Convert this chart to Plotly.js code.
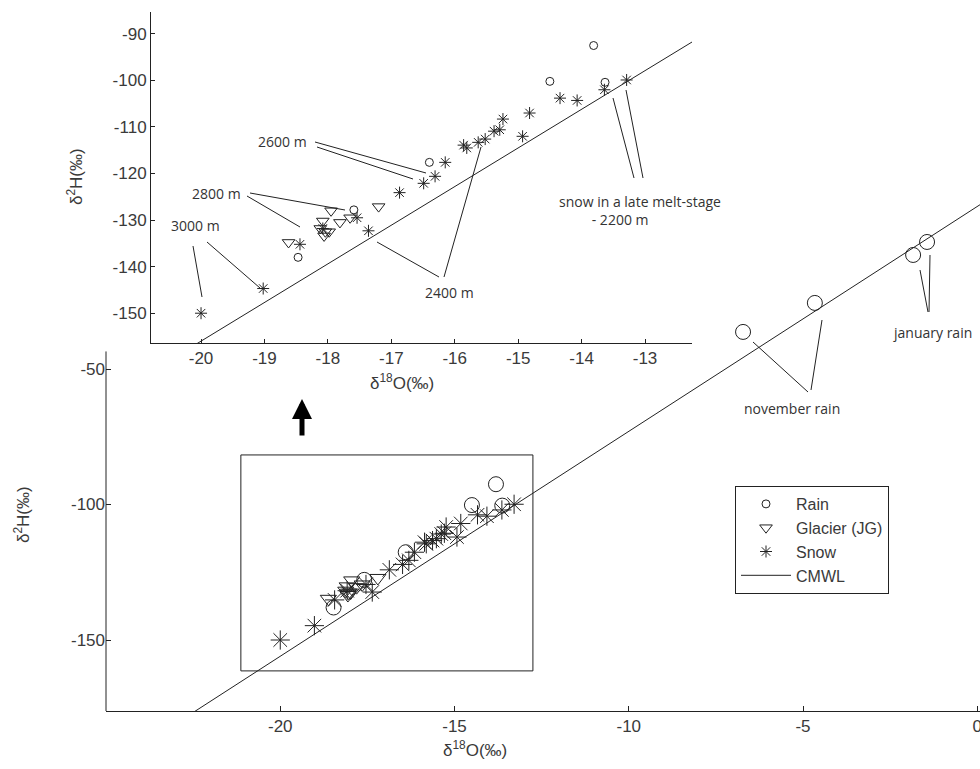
<!DOCTYPE html>
<html>
<head>
<meta charset="utf-8">
<script src="https://cdn.plot.ly/plotly-3.0.1.min.js"></script>
<style>html,body{margin:0;padding:0;background:#fff;}#chart{width:980px;height:769px;}</style>
</head>
<body>
<div id="chart"></div>
<script>
// ---- data ----
const rainX = [-18.47, -17.59, -16.40, -14.50, -13.81, -13.63, -6.72, -4.66, -1.84, -1.44];
const rainY = [-138.0, -127.8, -117.6, -100.2, -92.5, -100.4, -36.3, -25.6, -7.9, -3.1];
const glacierX = [-17.95, -17.20, -18.08, -17.81, -17.65, -18.12, -18.04, -17.98, -18.06, -18.62];
const glacierY = [-128.0, -127.1, -130.2, -130.5, -129.5, -131.8, -132.5, -132.5, -133.4, -134.8];
const snowX = [-20.0, -19.02, -18.44, -18.08, -17.54, -17.36, -16.87, -16.49, -16.31, -16.15, -15.86, -15.81,
               -15.63, -15.52, -15.38, -15.29, -15.24, -14.93, -14.82, -14.34, -14.07, -13.64, -13.29];
const snowY = [-150.0, -144.7, -135.2, -131.8, -129.5, -132.3, -124.1, -122.1, -120.6, -117.6, -113.9, -114.5,
               -113.3, -112.6, -110.9, -110.6, -108.3, -112.0, -107.0, -103.8, -104.3, -102.0, -99.9];
const cmwlX = [-25, 1];
const cmwlY = [-197.5, 18.3];
const mainXTicks = [-20, -15, -10, -5, 0];
const mainXLabels = ['-20', '-15', '-10', '-5', '0'];
const mainYTicks = [-150, -100, -50];
const mainYLabels = ['-150', '-100', '-50'];
const insetXTicks = [-20, -19, -18, -17, -16, -15, -14, -13];
const insetXLabels = ['-20', '-19', '-18', '-17', '-16', '-15', '-14', '-13'];
const insetYTicks = [-150, -140, -130, -120, -110, -100, -90];
const insetYLabels = ['-150', '-140', '-130', '-120', '-110', '-100', '-90'];
const seriesNames = ['Rain', 'Glacier (JG)', 'Snow', 'CMWL'];

// ---- layout helpers (pixel -> paper) ----
const W = 980, H = 769;
const px = v => v / W;
const py = v => 1 - v / H;
const INK = '#222';
const tickFont = {family: 'Liberation Sans, Arial, sans-serif', size: 17, color: '#3a3a3a'};
const titleFont = {family: 'Liberation Sans, Arial, sans-serif', size: 17, color: '#3a3a3a'};
const noteFont = {family: 'Open Sans, sans-serif', size: 14, color: '#333'};

function pts(x, y, sym, size, xa, ya, name, legend, rank) {
  return {x: x, y: y, type: 'scatter', mode: 'markers', name: name, showlegend: legend, legendrank: rank,
    legendgroup: name, xaxis: xa, yaxis: ya, cliponaxis: true,
    marker: {symbol: sym, size: size, color: INK, line: {color: INK, width: 1}}};
}

const traces = [
  // main plot
  {x: cmwlX, y: cmwlY, type: 'scatter', mode: 'lines', xaxis: 'x', yaxis: 'y', showlegend: false,
   line: {color: INK, width: 1}},
  pts(glacierX, glacierY, 'triangle-down-open', 14, 'x', 'y', seriesNames[1], false),
  pts(rainX, rainY, 'circle-open', 15, 'x', 'y', seriesNames[0], false),
  pts(snowX, snowY, 'asterisk-open', 16, 'x', 'y', seriesNames[2], false),
  // inset
  {x: cmwlX, y: cmwlY, type: 'scatter', mode: 'lines', xaxis: 'x2', yaxis: 'y2', name: seriesNames[3],
   legendgroup: 'cmwl', legendrank: 4, showlegend: true, line: {color: INK, width: 1}},
  pts(glacierX, glacierY, 'triangle-down-open', 11, 'x2', 'y2', seriesNames[1], true, 2),
  pts(rainX, rainY, 'circle-open', 8, 'x2', 'y2', seriesNames[0], true, 1),
  pts(snowX, snowY, 'asterisk-open', 10, 'x2', 'y2', seriesNames[2], true, 3)
];

function line(x0, y0, x1, y1, w) {
  return {type: 'line', xref: 'paper', yref: 'paper', x0: px(x0), y0: py(y0), x1: px(x1), y1: py(y1),
    line: {color: INK, width: w || 1}};
}
function note(text, x, y, opts) {
  return Object.assign({text: text, xref: 'paper', yref: 'paper', x: px(x), y: py(y), showarrow: false,
    font: noteFont, xanchor: 'center', yanchor: 'middle'}, opts || {});
}

const shapes = [
  // main y axis line (visible part below the inset)
  {type: 'line', xref: 'paper', yref: 'y', x0: px(106), x1: px(106), y0: -176.2, y1: -43.5,
   line: {color: INK, width: 1}},
  // zoom box on main plot
  {type: 'rect', xref: 'x', yref: 'y', x0: -21.13, x1: -12.75, y0: -161.4, y1: -81.7,
   line: {color: INK, width: 1}, fillcolor: 'rgba(0,0,0,0)'},
  // inset leader lines
  line(315, 142, 426, 173), line(317, 147, 413, 179),
  line(250, 193, 345, 210), line(247, 196, 300, 227),
  line(193, 246, 202, 297), line(207, 242, 260, 288),
  line(439, 277, 377, 242), line(444, 277, 481, 147),
  line(634, 178, 613, 98), line(643, 178, 626, 90),
  // main leader lines
  line(753, 342, 808, 392), line(822, 320, 811, 390),
  line(920, 270, 928, 312), line(930, 255, 929, 312)
];

const indent = '\u00A0'.repeat(9);
const annotations = [
  note('2600 m', 282, 141), note('2800 m', 216, 194), note('3000 m', 195, 225), note('2400 m', 449, 292),
  note('snow in a late melt-stage<br>' + indent + '- 2200 m', 557, 210, {xanchor: 'left', align: 'left'}),
  note('november rain', 792, 408), note('january rain', 932, 332),
  // axis titles
  note('δ<sup>2</sup>H(‰)', 22, 515, {textangle: -90, font: titleFont}),
  note('δ<sup>18</sup>O(‰)', 475, 749, {font: titleFont}),
  note('δ<sup>2</sup>H(‰)', 75, 177, {textangle: -90, font: titleFont}),
  note('δ<sup>18</sup>O(‰)', 402, 382, {font: titleFont}),
  // arrow
  {text: '', xref: 'paper', yref: 'paper', x: px(302), y: py(399), ax: 0, ay: 38, showarrow: true,
   arrowhead: 2, arrowsize: 0.8, arrowwidth: 5, arrowcolor: '#000'}
];

const axCommon = {showgrid: false, zeroline: false, ticks: 'inside', ticklen: 5, tickcolor: INK,
  tickfont: tickFont, linecolor: INK, linewidth: 1, mirror: false, fixedrange: true,
  tickmode: 'array', ticklabeloverflow: 'allow'};

const layout = {
  width: W, height: H, margin: {l: 0, r: 0, t: 0, b: 0},
  paper_bgcolor: '#fff', plot_bgcolor: '#fff',
  xaxis: Object.assign({}, axCommon, {domain: [px(106), 1], range: [-25, 0.079],
    tickvals: mainXTicks, ticktext: mainXLabels, showline: true, anchor: 'y'}),
  yaxis: Object.assign({}, axCommon, {domain: [py(711), 1], range: [-176.2, 86.2],
    tickvals: mainYTicks, ticktext: mainYLabels, showline: false, anchor: 'x'}),
  xaxis2: Object.assign({}, axCommon, {domain: [px(151), px(692)], range: [-20.789, -12.259],
    tickvals: insetXTicks, ticktext: insetXLabels, showline: true, anchor: 'y2', ticklen: 4}),
  yaxis2: Object.assign({}, axCommon, {domain: [py(343), py(12)], range: [-156.4, -85.3],
    tickvals: insetYTicks, ticktext: insetYLabels, showline: true, anchor: 'x2', ticklen: 4}),
  showlegend: true,
  legend: {x: px(735), y: py(486), xanchor: 'left', yanchor: 'top', bgcolor: '#fff', bordercolor: INK,
    borderwidth: 1, font: {family: 'Liberation Sans, Arial, sans-serif', size: 16, color: '#3a3a3a'},
    traceorder: 'grouped', tracegroupgap: 0, itemwidth: 50},
  shapes: shapes,
  annotations: annotations
};

Plotly.newPlot('chart', traces, layout, {displayModeBar: false, staticPlot: true});
</script>
</body>
</html>
